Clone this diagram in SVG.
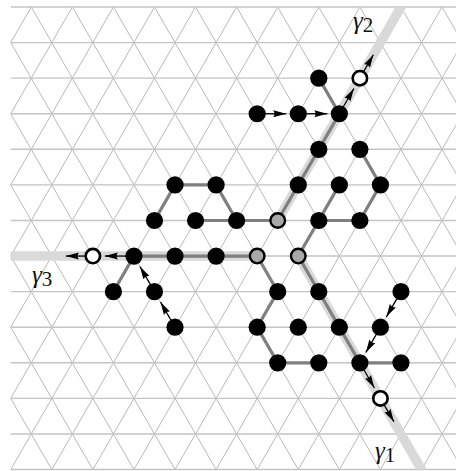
<svg xmlns="http://www.w3.org/2000/svg" width="456" height="471" viewBox="0 0 456 471">
<style>
.grid{fill:none;stroke:#b9b9b9;stroke-width:1}
.hgrid{fill:none;stroke:#c4c4c4;stroke-width:1.4}
.band{fill:none;stroke:#d9d9d9;stroke-width:9.5}
.edge{fill:none;stroke:#7f7f7f;stroke-width:3.2;stroke-linecap:round}
.arr{fill:none;stroke:#000;stroke-width:1.3;marker-end:url(#ah)}
.b{fill:#000}
.g{fill:#a9a9a9;stroke:#000;stroke-width:2.4}
.w{fill:#fff;stroke:#000;stroke-width:2.6}
.lab{font-family:"Liberation Serif","DejaVu Serif",serif;fill:#111}
</style>
<defs>
<clipPath id="gc"><rect x="10.7" y="6" width="446" height="465"/></clipPath>
<clipPath id="bc"><rect x="10.7" y="7" width="446" height="462.54"/></clipPath>
<marker id="ah" markerUnits="userSpaceOnUse" markerWidth="14" markerHeight="8" refX="13" refY="4" orient="auto"><path d="M0,0.5 L13,4 L0,7.5 Q2.5,4 0,0.5 Z" fill="#000"/></marker>
</defs>
<g id="lattice" clip-path="url(#gc)">
<path class="grid" d="M-256.32 7l267 462.54M-215.24 7l267 462.54M-174.16 7l267 462.54M-133.08 7l267 462.54M-92 7l267 462.54M-50.92 7l267 462.54M-9.84 7l267 462.54M31.24 7l267 462.54M72.32 7l267 462.54M113.4 7l267 462.54M154.48 7l267 462.54M195.56 7l267 462.54M236.64 7l267 462.54M277.72 7l267 462.54M318.8 7l267 462.54M359.88 7l267 462.54M400.96 7l267 462.54M442.04 7l267 462.54"/>
<path class="grid" d="M31.24 7l-267 462.54M72.32 7l-267 462.54M113.4 7l-267 462.54M154.48 7l-267 462.54M195.56 7l-267 462.54M236.64 7l-267 462.54M277.72 7l-267 462.54M318.8 7l-267 462.54M359.88 7l-267 462.54M400.96 7l-267 462.54M442.04 7l-267 462.54M483.12 7l-267 462.54M524.2 7l-267 462.54M565.28 7l-267 462.54M606.36 7l-267 462.54M647.44 7l-267 462.54M688.52 7l-267 462.54"/>
<path class="hgrid" d="M10.7 7H456M10.7 42.58H456M10.7 78.16H456M10.7 113.74H456M10.7 149.32H456M10.7 184.9H456M10.7 220.48H456M10.7 256.06H456M10.7 291.64H456M10.7 327.22H456M10.7 362.8H456M10.7 398.38H456M10.7 433.96H456M10.7 469.54H456"/>
</g>
<g id="connectors">
<g clip-path="url(#bc)">
<path class="band" d="M277.72 220.48L405.96 -1.66"/>
<path class="band" d="M257.18 256.06H0"/>
<path class="band" d="M298.26 256.06L426.5 478.2"/>
</g>
<path class="edge" d="M277.72 220.48L339.34 113.74L318.8 78.16"/>
<path class="edge" d="M359.88 149.32L380.42 184.9L359.88 220.48H318.8L339.34 184.9M318.8 220.48L298.26 256.06L359.88 362.8H400.96"/>
<path class="edge" d="M154.48 220.48L175.02 184.9H216.1L236.64 220.48M195.56 220.48H277.72"/>
<path class="edge" d="M113.4 291.64L133.94 256.06H257.18L277.72 291.64L257.18 327.22L277.72 362.8H318.8"/>
<path class="arr" d="M257.18 113.74H286.26"/>
<path class="arr" d="M298.26 113.74H327.34"/>
<path class="arr" d="M339.34 113.74L353.88 88.55"/>
<path class="arr" d="M359.88 78.16L373.38 54.78"/>
<path class="arr" d="M133.94 256.06H104.86"/>
<path class="arr" d="M92.86 256.06H65.86"/>
<path class="arr" d="M175.02 327.22L160.48 302.03"/>
<path class="arr" d="M154.48 291.64L139.94 266.45"/>
<path class="arr" d="M400.96 291.64L386.42 316.83"/>
<path class="arr" d="M380.42 327.22L365.88 352.41"/>
<path class="arr" d="M359.88 362.8L374.42 387.99"/>
<path class="arr" d="M380.42 398.38L393.92 421.76"/>
</g>
<g id="n2-15"><circle class="b" cx="318.8" cy="78.16" r="8.6"/></g>
<g id="n3-12"><circle class="b" cx="257.18" cy="113.74" r="8.6"/></g>
<g id="n3-14"><circle class="b" cx="298.26" cy="113.74" r="8.6"/></g>
<g id="n3-16"><circle class="b" cx="339.34" cy="113.74" r="8.6"/></g>
<g id="n4-15"><circle class="b" cx="318.8" cy="149.32" r="8.6"/></g>
<g id="n4-17"><circle class="b" cx="359.88" cy="149.32" r="8.6"/></g>
<g id="n5-8"><circle class="b" cx="175.02" cy="184.9" r="8.6"/></g>
<g id="n5-10"><circle class="b" cx="216.1" cy="184.9" r="8.6"/></g>
<g id="n5-14"><circle class="b" cx="298.26" cy="184.9" r="8.6"/></g>
<g id="n5-16"><circle class="b" cx="339.34" cy="184.9" r="8.6"/></g>
<g id="n5-18"><circle class="b" cx="380.42" cy="184.9" r="8.6"/></g>
<g id="n6-7"><circle class="b" cx="154.48" cy="220.48" r="8.6"/></g>
<g id="n6-9"><circle class="b" cx="195.56" cy="220.48" r="8.6"/></g>
<g id="n6-11"><circle class="b" cx="236.64" cy="220.48" r="8.6"/></g>
<g id="n6-15"><circle class="b" cx="318.8" cy="220.48" r="8.6"/></g>
<g id="n6-17"><circle class="b" cx="359.88" cy="220.48" r="8.6"/></g>
<g id="n7-6"><circle class="b" cx="133.94" cy="256.06" r="8.6"/></g>
<g id="n7-8"><circle class="b" cx="175.02" cy="256.06" r="8.6"/></g>
<g id="n7-10"><circle class="b" cx="216.1" cy="256.06" r="8.6"/></g>
<g id="n8-5"><circle class="b" cx="113.4" cy="291.64" r="8.6"/></g>
<g id="n8-7"><circle class="b" cx="154.48" cy="291.64" r="8.6"/></g>
<g id="n8-13"><circle class="b" cx="277.72" cy="291.64" r="8.6"/></g>
<g id="n8-15"><circle class="b" cx="318.8" cy="291.64" r="8.6"/></g>
<g id="n8-19"><circle class="b" cx="400.96" cy="291.64" r="8.6"/></g>
<g id="n9-8"><circle class="b" cx="175.02" cy="327.22" r="8.6"/></g>
<g id="n9-12"><circle class="b" cx="257.18" cy="327.22" r="8.6"/></g>
<g id="n9-14"><circle class="b" cx="298.26" cy="327.22" r="8.6"/></g>
<g id="n9-16"><circle class="b" cx="339.34" cy="327.22" r="8.6"/></g>
<g id="n9-18"><circle class="b" cx="380.42" cy="327.22" r="8.6"/></g>
<g id="n10-13"><circle class="b" cx="277.72" cy="362.8" r="8.6"/></g>
<g id="n10-15"><circle class="b" cx="318.8" cy="362.8" r="8.6"/></g>
<g id="n10-17"><circle class="b" cx="359.88" cy="362.8" r="8.6"/></g>
<g id="n10-19"><circle class="b" cx="400.96" cy="362.8" r="8.6"/></g>
<g id="n6-13"><circle class="g" cx="277.72" cy="220.48" r="7.3"/></g>
<g id="n7-12"><circle class="g" cx="257.18" cy="256.06" r="7.3"/></g>
<g id="n7-14"><circle class="g" cx="298.26" cy="256.06" r="7.3"/></g>
<g id="n2-17"><circle class="w" cx="359.88" cy="78.16" r="7.2"/></g>
<g id="n7-4"><circle class="w" cx="92.86" cy="256.06" r="7.2"/></g>
<g id="n11-18"><circle class="w" cx="380.42" cy="398.38" r="7.2"/></g>
<g id="labels" class="lab">
<text x="353" y="29" font-size="25"><tspan font-style="italic">γ</tspan><tspan font-size="21" dy="3">2</tspan></text>
<text x="32" y="283" font-size="25"><tspan font-style="italic">γ</tspan><tspan font-size="21" dy="3">3</tspan></text>
<text x="375" y="459" font-size="25"><tspan font-style="italic">γ</tspan><tspan font-size="21" dy="3">1</tspan></text>
</g>
</svg>
